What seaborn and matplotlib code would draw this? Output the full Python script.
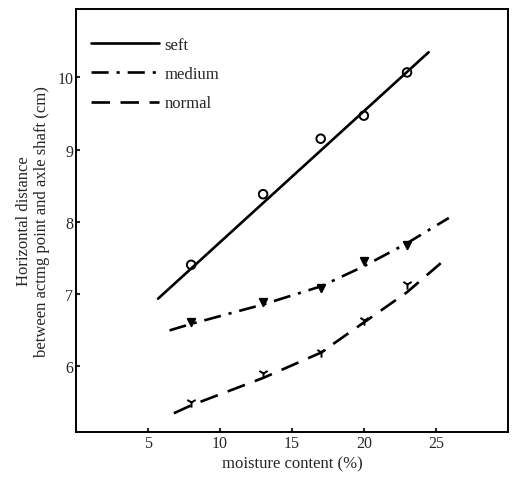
import matplotlib as mpl
mpl.use('Agg')
import matplotlib.pyplot as plt
import pandas as pd
import seaborn as sns

# measured points (moisture %, distance cm)
soft_x = [8, 13, 17, 20, 23]
soft_y = [7.40, 8.38, 9.15, 9.47, 10.07]
medium_x = [8, 13, 17, 20, 23]
medium_y = [6.60, 6.88, 7.08, 7.45, 7.68]
normal_x = [8, 13, 17, 20, 23]
normal_y = [5.50, 5.90, 6.19, 6.64, 7.13]

# fitted curves
soft_fit_x = [5.7, 24.5]
soft_fit_y = [6.93, 10.35]
medium_fit_x = [6.5, 8, 13, 17, 20, 23, 25.9]
medium_fit_y = [6.49, 6.58, 6.85, 7.10, 7.38, 7.70, 8.05]
normal_fit_x = [6.8, 8, 13, 17, 20, 23, 25.5]
normal_fit_y = [5.34, 5.45, 5.83, 6.18, 6.60, 7.02, 7.45]

labels = ['seft', 'medium', 'normal']
xticks = [5, 10, 15, 20, 25]
yticks = [6, 7, 8, 9, 10]

sns.set_style("ticks")
plt.rcParams['font.family'] = ['Liberation Serif', 'DejaVu Serif']

fig = plt.figure(figsize=(5.15, 4.81), dpi=100)
ax = fig.add_axes([0.1476, 0.0998, 0.8384, 0.8794])

fits = [(soft_fit_x, soft_fit_y, '-'),
        (medium_fit_x, medium_fit_y, (0, (6.5, 3, 1.2, 3))),
        (normal_fit_x, normal_fit_y, (0, (7, 4)))]
pts = [(soft_x, soft_y, 'o', 'none', 38),
       (medium_x, medium_y, 'v', 'black', 28),
       (normal_x, normal_y, '1', 'black', 55)]

for (fx, fy, ls), lab in zip(fits, labels):
    df = pd.DataFrame({'x': fx, 'y': fy})
    sns.lineplot(data=df, x='x', y='y', ax=ax, color='black', lw=1.9,
                 linestyle=ls, label=lab, sort=False)

for px, py, mk, fc, sz in pts:
    ax.scatter(px, py, marker=mk, s=sz, facecolors=fc, edgecolors='black',
               color='black', linewidths=1.4, zorder=3)

ax.set_xlim(0, 30)
ax.set_ylim(5.08, 10.95)
ax.set_xticks(xticks)
ax.set_yticks(yticks)
ax.tick_params(direction='in', length=3, width=1.5, labelsize=11.5, pad=2)
for s in ax.spines.values():
    s.set_linewidth(1.4)
    s.set_color('black')

ax.set_xlabel('moisture content (%)', fontsize=12, labelpad=3)
ax.set_ylabel('Horizontal distance\nbetween actmg point and axle shaft (cm)',
              fontsize=12, labelpad=5, linespacing=1.2)

leg = ax.legend(loc='upper left', bbox_to_anchor=(0.0, 0.97), frameon=False,
                handlelength=4.1, handletextpad=0.3, labelspacing=0.8,
                fontsize=12)

fig.savefig('out.png', dpi=100)
